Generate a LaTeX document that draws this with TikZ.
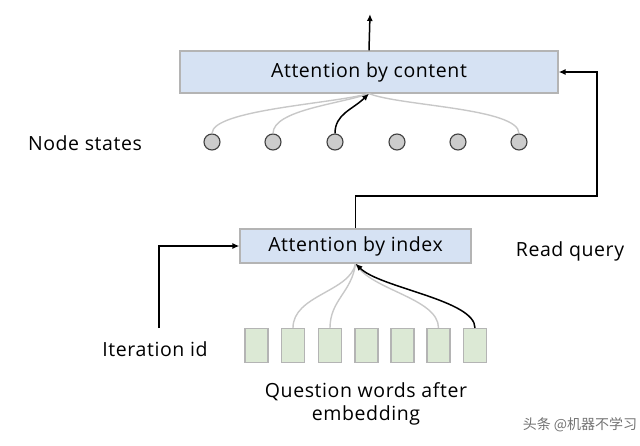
\documentclass[tikz,border=0pt]{standalone}
\usepackage{fontspec}
\setmainfont{Open Sans}[LetterSpace=3]
\newfontfamily\cjk{Noto Sans CJK SC}
\usetikzlibrary{arrows.meta, positioning}
\definecolor{boxBlue}{HTML}{D6E2F3}
\definecolor{boxGreen}{HTML}{DCE9D5}
\definecolor{dotGrey}{HTML}{CCCCCC}
\definecolor{edgeGrey}{HTML}{B4B4B4}
\definecolor{linkGrey}{HTML}{C8C8C8}
\tikzset{
  % unit is one pixel of the reference, y runs downwards
  every picture/.append style = {x=1pt, y=-1pt, line width=1.5pt, >={Latex[length=7pt, width=6pt]}},
  attbox/.style  = {draw=edgeGrey, fill=boxBlue, line width=1.2pt, font=\fontsize{19.5}{23}\selectfont},
  wordbox/.style = {draw=edgeGrey, fill=boxGreen, line width=1.2pt, minimum width=23pt, minimum height=34pt, inner sep=0pt},
  statedot/.style= {circle, draw=black!75, fill=dotGrey, line width=1.1pt, minimum size=16pt, inner sep=0pt},
  lbl/.style     = {font=\fontsize{19.5}{23}\selectfont},
  weak/.style    = {linkGrey, line width=1.4pt},
  strong/.style  = {->, black, line width=1.5pt},
  flow/.style    = {->, black, line width=1.5pt},
}
\begin{document}
\begin{tikzpicture}
  \useasboundingbox (0,0) rectangle (640,445);
  % attention boxes
  \node[attbox, minimum width=378pt, minimum height=42pt] (content) at (369,72) {Attention by content};
  \node[attbox, minimum width=231pt, minimum height=34pt] (index) at (355.5,246) {Attention by index};
  % node states
  \foreach \i/\x in {1/212, 2/273, 3/335, 4/397, 5/458, 6/519}
    \node[statedot] (s\i) at (\x,142) {};
  \node[lbl] (states) at (85,143) {Node states};
  % question words
  \foreach \i/\x in {1/256.5, 2/293, 3/330, 4/366.5, 5/402.5, 6/438.5, 7/475}
    \node[wordbox] (w\i) at (\x,345.5) {};
  \node[lbl, align=center] (words) at (366,404) {Question words after\\embedding};
  \node[lbl] (iter) at (155,349) {Iteration id};
  \node[lbl] (query) at (570,251) {Read query};
  \coordinate (top) at (370,14);
  \coordinate (iterfoot) at (159,328);
  % links to the content attention
  \draw[weak] (s1.north) .. controls (212,110) and (330,104) .. (content.south);
  \draw[weak] (s2.north) .. controls (273,110) and (340,104) .. (content.south);
  \draw[weak] (s6.north) .. controls (519,108) and (400,106) .. (content.south);
  \draw[strong] (s3.north) .. controls (335,114) and (352,110) .. (content.south);
  % links to the index attention
  \draw[weak] (w2.north) .. controls (293,295) and (350,292) .. (index.south);
  \draw[weak] (w3.north) .. controls (330,300) and (352,292) .. (index.south);
  \draw[weak] (w6.north) .. controls (438.5,298) and (370,290) .. (index.south);
  \draw[strong] (w7.north) .. controls (475,300) and (380,288) .. (index.south);
  % control flow
  \draw[flow] (content.north) -- (top);
  \draw[flow] (index.north) |- (597,196) |- (content.east);
  \draw[flow] (iterfoot) |- (index.west);
  % watermark
  \node[font=\cjk\fontsize{14}{16}\selectfont, text=black!55] (mark) at (580,425) {头条 @机器不学习};
\end{tikzpicture}
\end{document}
